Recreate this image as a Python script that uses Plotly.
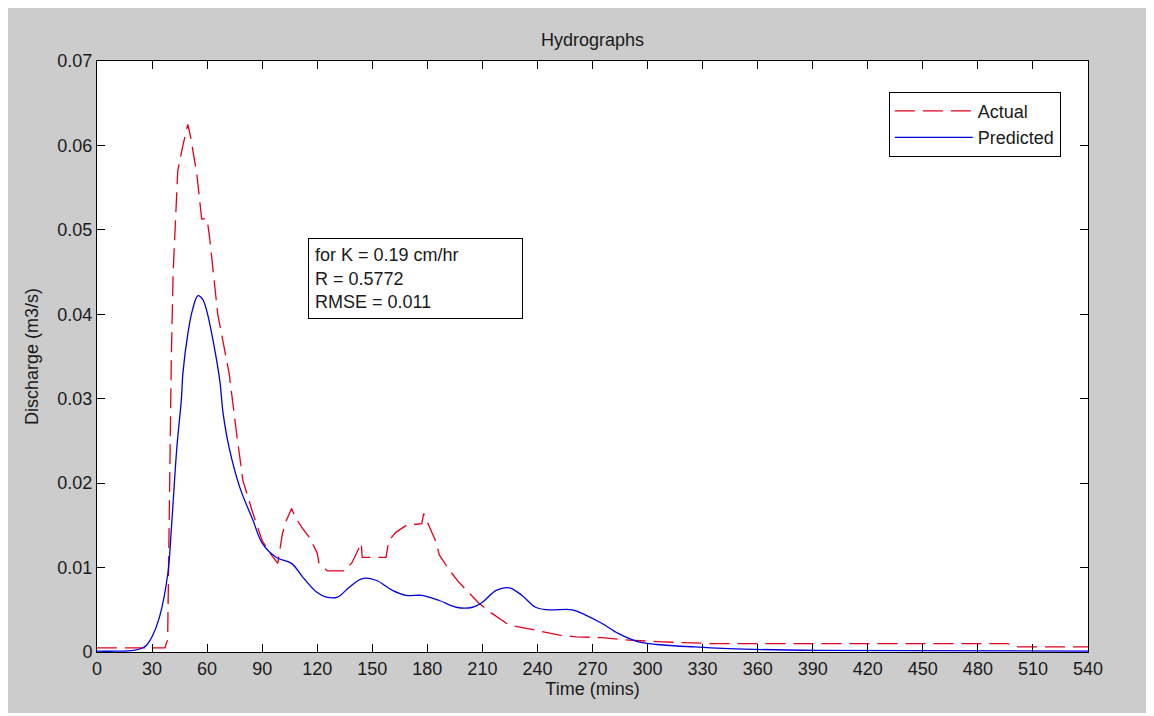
import plotly.graph_objects as go

# Actual (observed) hydrograph
actual_t = [0, 37, 38.5, 39.5, 40.5, 41.5, 42.4, 44, 46.8, 49.5, 51, 54.4, 56, 57, 60, 61.4,
            65.8, 72, 76, 79.5, 85, 90, 95, 98.5, 101, 103, 106, 108, 111.5, 116, 120, 121,
            125.6, 135, 139, 144, 144.5, 157.5, 159, 163, 168.5, 177, 178, 181, 185, 186.5,
            192, 197, 203, 208, 215, 224.5, 234, 242.5, 252, 261, 275, 290, 308, 335, 496,
            502, 540]
actual_q = [0.0005, 0.0005, 0.0015, 0.020, 0.035, 0.045, 0.050, 0.057, 0.060, 0.0625, 0.061,
            0.0566, 0.0534, 0.0513, 0.0513, 0.049, 0.040, 0.033, 0.026, 0.0203, 0.0164,
            0.0132, 0.0115, 0.0105, 0.014, 0.0155, 0.017, 0.016, 0.0148, 0.0135, 0.0117,
            0.0105, 0.0096, 0.0096, 0.0106, 0.0129, 0.0112, 0.0112, 0.0132, 0.0142, 0.015,
            0.0152, 0.0164, 0.0148, 0.0129, 0.0115, 0.0097, 0.0083, 0.007, 0.0058, 0.0046,
            0.0032, 0.0028, 0.0024, 0.002, 0.0018, 0.0017, 0.0014, 0.0012, 0.001, 0.001,
            0.0006, 0.0006]

# Predicted hydrograph
pred_t = [0, 10, 20, 25, 27, 30, 34, 38.6, 40.7, 43.5, 46, 46.8, 49.5, 52, 55, 57.5, 59.8,
          64, 67, 68.7, 72, 77.8, 85, 90, 97.8, 106, 112, 119.6, 125, 131, 137.6, 144.6,
          152, 161, 168.5, 177, 186.5, 195.7, 204.6, 210, 217.5, 224.6, 231.6, 239, 246,
          259, 266, 275, 284, 295, 310, 326, 344, 393, 540]
pred_q = [0.0001, 0.0001, 0.0002, 0.0005, 0.0008, 0.0018, 0.0041, 0.0093, 0.0152, 0.0242,
          0.030, 0.033, 0.0377, 0.0405, 0.0422, 0.0418, 0.0404, 0.036, 0.032, 0.0283, 0.0242,
          0.0195, 0.0156, 0.0129, 0.0112, 0.0105, 0.0089, 0.0071, 0.0065, 0.0065, 0.0077,
          0.0087, 0.0085, 0.0073, 0.0067, 0.0067, 0.0061, 0.0053, 0.0053, 0.0059, 0.0073,
          0.0076, 0.0067, 0.0053, 0.005, 0.005, 0.0044, 0.0034, 0.0022, 0.0012, 0.0008,
          0.0006, 0.0004, 0.0002, 0.0001]

x_ticks = list(range(0, 541, 30))
y_ticks = [0, 0.01, 0.02, 0.03, 0.04, 0.05, 0.06, 0.07]
y_tick_labels = ["0", "0.01", "0.02", "0.03", "0.04", "0.05", "0.06", "0.07"]

FONT = "Liberation Sans, Arial, sans-serif"
FS = 18

fig = go.Figure()
fig.add_trace(go.Scatter(x=actual_t, y=actual_q, mode="lines", name="Actual",
                         line=dict(color="#e0001b", width=1.3, dash="20px,8px")))
fig.add_trace(go.Scatter(x=pred_t, y=pred_q, mode="lines", name="Predicted",
                         line=dict(color="#0000e0", width=1.3), line_shape="spline"))

# page body has an 8px margin; the figure is sized so the plot area lands on the
# reference position (plot area x 97..1088, y 61..652 in the page)
fig.update_layout(
    width=1142, height=705,
    paper_bgcolor="#cccccc", plot_bgcolor="white",
    margin=dict(l=89, r=62, t=53, b=61),
    font=dict(family=FONT, size=FS, color="#1a1a1a"),
    title=dict(text="Hydrographs", x=(89 + 1080) / 2 / 1142, xanchor="center",
               y=1 - 32 / 705, yanchor="middle", font=dict(size=FS)),
    showlegend=True,
    legend=dict(x=0.799, y=0.948, xanchor="left", yanchor="top",
                bgcolor="white", bordercolor="black", borderwidth=1,
                font=dict(size=FS), tracegroupgap=0, itemwidth=78),
    annotations=[dict(
        text="for K = 0.19 cm/hr<br>R = 0.5772<br>RMSE = 0.011",
        xref="paper", yref="paper", x=0.213, y=0.701, xanchor="left", yanchor="top",
        align="left", valign="middle", width=201, height=67,
        showarrow=False, bgcolor="white", bordercolor="black",
        borderwidth=1, borderpad=6, font=dict(size=FS))],
)
fig.update_xaxes(range=[0, 540], tickvals=x_ticks, ticks="inside", ticklen=8,
                 tickcolor="black", showline=True, linecolor="black", linewidth=1,
                 mirror="ticks", showgrid=False, zeroline=False,
                 title=dict(text="Time (mins)", font=dict(size=FS), standoff=4))
fig.update_yaxes(range=[0, 0.07], tickvals=y_ticks, ticktext=y_tick_labels,
                 ticks="inside", ticklen=8, tickcolor="black", showline=True,
                 linecolor="black", linewidth=1, mirror="ticks", showgrid=False,
                 zeroline=False,
                 title=dict(text="Discharge (m3/s)", font=dict(size=FS), standoff=14))

fig.write_html("out.html")
